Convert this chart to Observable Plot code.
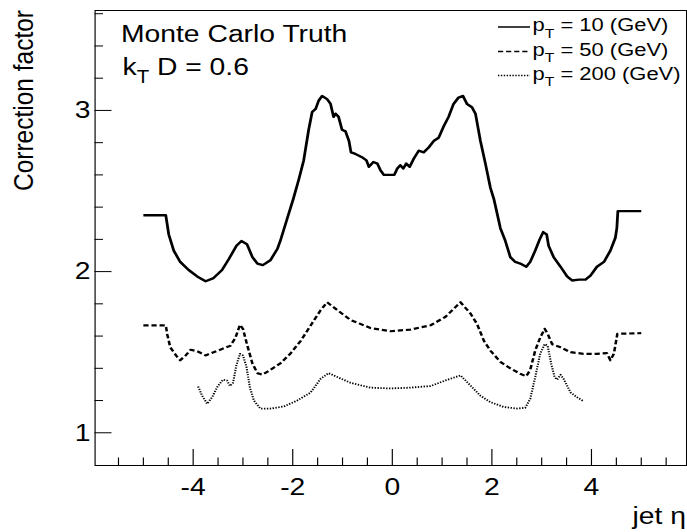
<!DOCTYPE html>
<html><head><meta charset="utf-8">
<script src="https://cdn.jsdelivr.net/npm/d3@7"></script>
<script src="https://cdn.jsdelivr.net/npm/@observablehq/plot@0.6"></script>
<style>html,body{margin:0;padding:0;background:#fff;overflow:hidden}#chart{width:687px;height:532px;overflow:hidden}</style>
</head><body><div id="chart"></div>
<script>
// ---- data ----
const eta10 = [-5.0,-4.55,-4.49,-4.39,-4.26,-4.09,-3.92,-3.75,-3.59,-3.42,-3.28,-3.13,-3.03,-2.92,-2.81,-2.71,-2.60,-2.45,-2.31,-2.25,-2.12,-1.99,-1.88,-1.78,-1.68,-1.61,-1.54,-1.48,-1.41,-1.31,-1.24,-1.18,-1.14,-1.08,-1.01,-0.94,-0.87,-0.83,-0.74,-0.61,-0.52,-0.47,-0.38,-0.30,-0.24,-0.17,-0.04,0.04,0.10,0.16,0.22,0.28,0.35,0.43,0.53,0.63,0.73,0.83,0.93,1.03,1.13,1.23,1.33,1.42,1.50,1.60,1.67,1.77,1.87,1.97,2.04,2.17,2.27,2.37,2.47,2.57,2.69,2.77,2.87,2.96,3.03,3.10,3.14,3.24,3.38,3.51,3.61,3.75,3.88,3.98,4.11,4.25,4.38,4.48,4.51,4.53,5.0];
const cf10  = [2.35,2.35,2.23,2.13,2.06,2.01,1.97,1.94,1.96,2.01,2.08,2.16,2.19,2.17,2.09,2.05,2.04,2.07,2.14,2.19,2.32,2.45,2.57,2.69,2.88,2.99,3.01,3.06,3.09,3.07,3.04,2.96,2.98,2.96,2.88,2.87,2.81,2.74,2.73,2.71,2.69,2.65,2.68,2.67,2.63,2.60,2.60,2.60,2.64,2.66,2.64,2.67,2.65,2.70,2.75,2.74,2.77,2.81,2.83,2.90,2.96,3.04,3.08,3.09,3.04,3.02,2.98,2.81,2.67,2.52,2.45,2.27,2.19,2.09,2.06,2.05,2.03,2.06,2.13,2.20,2.245,2.23,2.16,2.09,2.03,1.97,1.945,1.95,1.95,1.975,2.03,2.06,2.13,2.21,2.27,2.375,2.375];

const eta50 = [-5.0,-4.55,-4.52,-4.46,-4.32,-4.26,-4.15,-4.05,-3.92,-3.75,-3.59,-3.42,-3.25,-3.15,-3.06,-3.00,-2.92,-2.81,-2.71,-2.61,-2.45,-2.25,-2.05,-1.84,-1.64,-1.44,-1.31,-1.10,-0.84,-0.44,-0.04,0.36,0.77,1.07,1.37,1.57,1.70,1.84,1.97,2.17,2.37,2.57,2.69,2.77,2.87,2.97,3.06,3.12,3.21,3.38,3.58,3.84,4.11,4.31,4.38,4.45,4.52,5.0];
const cf50  = [1.666,1.666,1.61,1.53,1.47,1.45,1.48,1.515,1.506,1.48,1.50,1.52,1.54,1.59,1.67,1.645,1.55,1.43,1.37,1.36,1.39,1.43,1.49,1.57,1.666,1.76,1.81,1.76,1.70,1.65,1.63,1.64,1.667,1.72,1.81,1.74,1.676,1.57,1.51,1.44,1.40,1.366,1.35,1.39,1.51,1.59,1.645,1.614,1.55,1.53,1.50,1.49,1.49,1.494,1.45,1.49,1.614,1.618];

const eta200 = [-3.90,-3.82,-3.72,-3.62,-3.51,-3.40,-3.32,-3.26,-3.20,-3.13,-3.06,-3.00,-2.93,-2.86,-2.78,-2.65,-2.45,-2.18,-1.91,-1.64,-1.44,-1.28,-0.84,-0.44,-0.04,0.36,0.77,1.07,1.37,1.57,1.77,1.97,2.24,2.51,2.67,2.77,2.87,2.97,3.06,3.12,3.19,3.26,3.31,3.38,3.44,3.58,3.71,3.84];
const cf200  = [1.287,1.23,1.18,1.22,1.287,1.33,1.324,1.29,1.31,1.42,1.49,1.48,1.41,1.28,1.20,1.15,1.15,1.163,1.20,1.25,1.335,1.37,1.31,1.28,1.275,1.28,1.29,1.325,1.356,1.293,1.23,1.19,1.16,1.15,1.155,1.21,1.345,1.49,1.55,1.54,1.43,1.345,1.33,1.36,1.335,1.25,1.22,1.196];

const xMajorTicks = [-4,-2,0,2,4];
const xMinorTicks = [-5.5,-5,-4.5,-3.5,-3,-2.5,-1.5,-1,-0.5,0.5,1,1.5,2.5,3,3.5,4.5,5,5.5];
const yMajorTicks = [1,2,3];
const yMinorTicks = [1.2,1.4,1.6,1.8,2.2,2.4,2.6,2.8,3.2,3.4,3.6];

const legendLabels = ["p_T = 10 (GeV)", "p_T = 50 (GeV)", "p_T = 200 (GeV)"];
const annotations = ["Monte Carlo Truth", "k_T D = 0.6"];
const xLabel = "jet \u03b7";
const yLabel = "Correction factor";

// ---- styles / layout ----
const SX = 1.155;                 // horizontal stretch of the reference
const W = 687 / SX, H = 532;
const mL = 94.5 / SX, mR = 1 / SX, mT = 10, mB = 67;
const plotW = W - mL - mR, plotH = H - mT - mB;
const FONT = "'Liberation Sans', Arial, Helvetica, sans-serif";
const FS = 24.5, LFS = 19;
const dashes = [null, "4.5,2.5", "1.2,1.3"];
const widths = [2.4, 2.2, 1.8];

const toRows = (xs, ys) => xs.map((x, i) => ({x, y: ys[i]}));
const series = [toRows(eta10, cf10), toRows(eta50, cf50), toRows(eta200, cf200)];

const chart = Plot.plot({
  width: W, height: H,
  marginLeft: mL, marginRight: mR, marginTop: mT, marginBottom: mB,
  style: {fontFamily: FONT, background: "#fff", color: "#000", overflow: "visible"},
  x: {domain: [-5.97, 5.91]},
  y: {domain: [0.797, 3.62]},
  marks: [
    Plot.tickX(xMajorTicks, {x: d => d, insetTop: plotH - 16, stroke: "#000", strokeWidth: 1}),
    Plot.tickX(xMinorTicks, {x: d => d, insetTop: plotH - 7.5, stroke: "#000", strokeWidth: 1}),
    Plot.tickY(yMajorTicks, {y: d => d, insetRight: plotW - 17 / SX, stroke: "#000", strokeWidth: 1}),
    Plot.tickY(yMinorTicks, {y: d => d, insetRight: plotW - 8.5 / SX, stroke: "#000", strokeWidth: 1}),
    Plot.axisX({ticks: xMajorTicks, tickSize: 0, tickPadding: 12, fontSize: FS, label: null, tickFormat: d => String(d)}),
    Plot.axisY({ticks: yMajorTicks, tickSize: 0, tickPadding: 4.5 / SX, fontSize: FS, label: null, tickFormat: d => String(d)}),
    ...series.map((s, i) => Plot.line(s, {x: "x", y: "y", stroke: "#000", strokeWidth: widths[i], strokeDasharray: dashes[i], strokeLinecap: "butt", strokeLinejoin: "round"})),
    Plot.frame({stroke: "#000", strokeWidth: 1})
  ]
});

const svg = d3.select(chart);
svg.style("transform", `scaleX(${SX})`).style("transform-origin", "0 0");

function rich(textSel, str, size) {
  const parts = str.split(/_(\w)/);
  let sub = false;
  parts.forEach((p, i) => {
    if (i % 2 === 1) {
      textSel.append("tspan").attr("font-size", size * 0.72).attr("dy", size * 0.32).text(p);
      sub = true;
    } else if (p) {
      const t = textSel.append("tspan").text(p);
      if (sub) { t.attr("dy", -size * 0.32); sub = false; }
    }
  });
}

const g = svg.append("g").attr("font-family", FONT).attr("fill", "#000").attr("text-anchor", "start");
// annotations top-left
const annPos = [[121 / SX, 42], [122.5 / SX, 75]];
annotations.forEach((a, i) => {
  rich(g.append("text").attr("text-anchor", "start").attr("x", annPos[i][0]).attr("y", annPos[i][1]).attr("font-size", FS), a, FS);
});
// legend
const legX0 = 498 / SX, legX1 = 530 / SX, legTX = 532.5 / SX;
const legBase = [31.5, 56, 80];
legendLabels.forEach((lab, i) => {
  g.append("line").attr("x1", legX0).attr("x2", legX1)
    .attr("y1", legBase[i] - 4.5).attr("y2", legBase[i] - 4.5)
    .attr("stroke", "#000").attr("stroke-width", widths[i] * 0.7)
    .attr("stroke-dasharray", dashes[i]);
  rich(g.append("text").attr("text-anchor", "start").attr("x", legTX).attr("y", legBase[i]).attr("font-size", LFS), lab, LFS);
});
// axis titles
g.append("text").attr("x", 686 / SX).attr("y", 524).attr("text-anchor", "end").attr("font-size", FS).text(xLabel);
g.append("text").attr("transform", `translate(${33 / SX},10) rotate(-90)`).attr("text-anchor", "end").attr("font-size", FS).text(yLabel);

document.getElementById("chart").appendChild(chart);
</script>
</body></html>
